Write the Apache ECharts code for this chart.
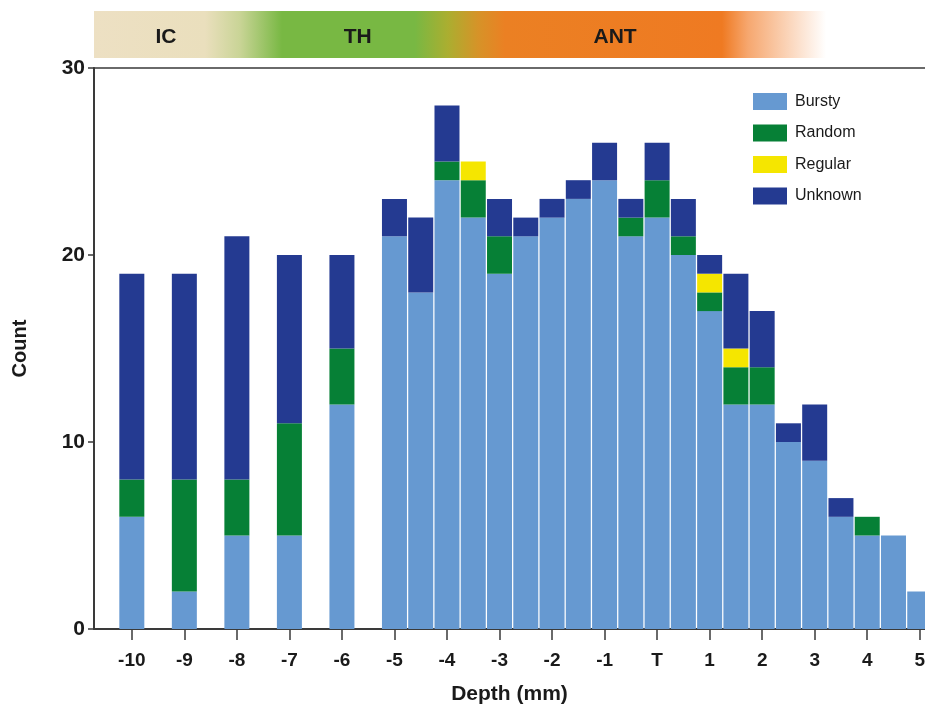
<!DOCTYPE html>
<html>
<head>
<meta charset="utf-8">
<script src="https://cdn.jsdelivr.net/npm/echarts@6/dist/echarts.min.js"></script>
<style>
html,body{margin:0;padding:0;background:#fff;}
#chart{width:925px;height:708px;}
</style>
</head>
<body>
<div id="chart"></div>
<script>
// Data
const depths = [-10,-9,-8,-7,-6,-5,-4.5,-4,-3.5,-3,-2.5,-2,-1.5,-1,-0.5,0,0.5,1,1.5,2,2.5,3,3.5,4,4.5,5];
const bursty  = [6,2,5,5,12,21,18,24,22,19,21,22,23,24,21,22,20,17,12,12,10,9,6,5,5,2];
const random  = [2,6,3,6,3,0,0,1,2,2,0,0,0,0,1,2,1,1,2,2,0,0,0,1,0,0];
const regular = [0,0,0,0,0,0,0,0,1,0,0,0,0,0,0,0,0,1,1,0,0,0,0,0,0,0];
const unknown = [11,11,13,9,5,2,4,3,0,2,1,1,1,2,1,2,2,1,4,3,1,3,1,0,0,0];
const tickValues = [-10,-9,-8,-7,-6,-5,-4,-3,-2,-1,0,1,2,3,4,5];
const zoneLabels = ['IC','TH','ANT'];
const zoneCenters = [-9.35,-5.7,-0.8];

const FONT = '"Liberation Sans", Arial, Helvetica, sans-serif';
const chart = echarts.init(document.getElementById('chart'), null, {renderer:'canvas'});

// rows are [count, depth] so that the count dimension is the stacked one
const rows = arr => depths.map((d,i)=>[arr[i], d]);
const colors = {Bursty:'#6699d1', Random:'#068036', Regular:'#f5e600', Unknown:'#243a91'};
const seriesDefs = [['Bursty',bursty],['Random',random],['Regular',regular],['Unknown',unknown]];

const gridLeft = 94, gridTop = 68, gridBottom = 79, gridRight = 0;
const xMin = -10.72, xMax = 5.1;
const plotW = 925 - gridLeft - gridRight;
const xPix = v => gridLeft + (v - xMin) / (xMax - xMin) * plotW;

const axisColor = '#3a3a3a';
const option = {
  animation: false,
  grid: {left: gridLeft, right: gridRight, top: gridTop, bottom: gridBottom, show: false,
    containLabel: false, outerBoundsMode: 'none'},
  legend: {
    orient: 'vertical', left: 748, top: 88, itemWidth: 34, itemHeight: 17, itemGap: 14.5,
    icon: 'rect',
    textStyle: {fontFamily: FONT, fontSize: 16, color: '#1a1a1a', padding: [0,0,0,3]},
    data: ['Bursty','Random','Regular','Unknown']
  },
  xAxis: [{
    type: 'value', min: xMin, max: xMax,
    name: 'Depth (mm)', nameLocation: 'middle', nameGap: 55,
    nameTextStyle: {fontFamily: FONT, fontSize: 21, fontWeight: 'bold', color: '#1a1a1a'},
    axisLine: {show: true, onZero: false, lineStyle: {color: axisColor, width: 2}},
    axisTick: {show: true, length: 11, customValues: tickValues, lineStyle: {color: axisColor, width: 1.5}},
    axisLabel: {customValues: tickValues, margin: 22, fontFamily: FONT, fontSize: 19, fontWeight: 'bold', color: '#1a1a1a',
      formatter: v => v === 0 ? 'T' : String(v)},
    splitLine: {show: false}
  }, {
    type: 'value', min: xMin, max: xMax, position: 'top',
    axisLine: {show: true, onZero: false, lineStyle: {color: axisColor, width: 1.5}},
    axisTick: {show: false}, axisLabel: {show: false}, splitLine: {show: false}
  }],
  yAxis: {
    type: 'value', min: 0, max: 30, interval: 10,
    name: 'Count', nameLocation: 'middle', nameGap: 64, nameRotate: 90,
    nameTextStyle: {fontFamily: FONT, fontSize: 20, fontWeight: 'bold', color: '#1a1a1a'},
    axisLine: {show: true, onZero: false, lineStyle: {color: axisColor, width: 2}},
    axisTick: {show: true, length: 6, lineStyle: {color: axisColor, width: 1.5}},
    axisLabel: {margin: 9, fontFamily: FONT, fontSize: 21, fontWeight: 'bold', color: '#1a1a1a'},
    splitLine: {show: false}
  },
  graphic: [
    {
      type: 'rect', left: 94, top: 11, z: 0,
      shape: {x: 0, y: 0, width: 732, height: 47},
      style: {
        fill: new echarts.graphic.LinearGradient(0,0,1,0,[
          {offset: 0, color: '#ede0c3'},
          {offset: (205-94)/732, color: '#eadfbd'},
          {offset: (240-94)/732, color: '#c9d496'},
          {offset: (282-94)/732, color: '#78b843'},
          {offset: (415-94)/732, color: '#78b843'},
          {offset: (448-94)/732, color: '#abae30'},
          {offset: (478-94)/732, color: '#d69328'},
          {offset: (505-94)/732, color: '#eb8023'},
          {offset: (722-94)/732, color: '#ef7a22'},
          {offset: (748-94)/732, color: '#f6a76f'},
          {offset: 1, color: '#ffffff'}
        ])
      }
    }
  ].concat(zoneLabels.map((t,i)=>({
    type: 'text', z: 1,
    x: xPix(zoneCenters[i]), y: 37,
    style: {text: t, fill: '#1a1a1a', font: 'bold 21px ' + FONT, textAlign: 'center', textVerticalAlign: 'middle'}
  }))),
  series: seriesDefs.map(([name, arr]) => ({
    name, type: 'bar', stack: 'total', barWidth: 25, xAxisIndex: 0,
    encode: {x: 1, y: 0},
    itemStyle: {color: colors[name]},
    data: rows(arr)
  }))
};
chart.setOption(option);
</script>
</body>
</html>
